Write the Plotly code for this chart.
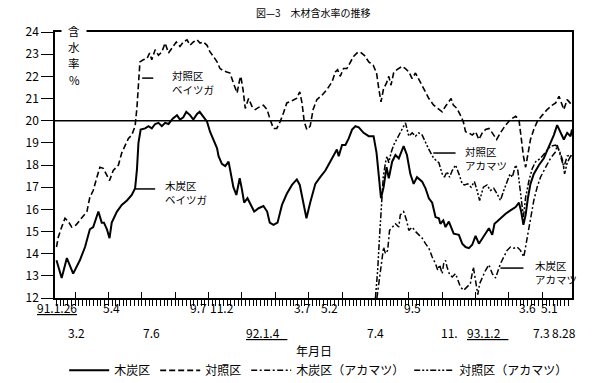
import plotly.graph_objects as go

# x = weeks since 1991-01-26
solid_w = [0.0,1.4,2.8,4.5,6.3,7.7,9.0,9.9,11.3,12.2,
           12.8,13.6,14.3,14.9,16.3,17.6,19.0,20.3,21.2,21.7,
           22.1,22.7,23.9,24.8,25.7,26.6,27.5,28.4,29.3,30.2,
           31.4,32.5,33.3,34.2,35.0,36.0,36.9,37.9,38.6,39.6,
           40.6,41.4,42.3,43.3,43.7,44.6,45.5,46.4,46.8,47.7,
           48.5,49.4,50.0,50.6,51.5,52.4,53.3,54.5,55.8,56.8,
           57.5,58.5,59.6,60.8,62.1,63.5,64.8,65.6,66.5,67.4,
           68.4,69.8,71.1,72.5,73.8,74.7,75.6,76.1,77.0,77.9,
           78.8,79.7,80.6,81.5,82.8,84.2,85.5,86.3,86.9,87.5,
           88.2,89.0,89.6,90.5,91.4,92.3,93.6,94.5,95.4,96.3,
           97.2,98.6,99.5,100.4,101.3,102.2,103.1,103.5,104.3,104.9,
           105.8,106.2,107.1,108.5,109.4,110.3,111.2,112.1,113.0,113.9,
           114.8,115.7,116.6,117.5,118.1,118.8,119.7,121.1,122.4,123.8,
           124.7,125.3,125.9,126.5,127.1,127.8,128.7,130.1,131.4,132.8,
           134.1,135.0,135.9,136.8,137.7,138.6,139.0]
solid_v = [13.7,12.9,13.8,13.1,13.7,14.3,15.1,15.2,15.9,15.4,
           15.4,15.1,14.7,15.4,15.9,16.2,16.4,16.65,16.95,17.8,
           19.0,19.6,19.65,19.75,19.65,19.85,19.9,19.75,19.9,19.85,
           20.1,20.25,20.05,20.15,20.4,20.25,20.05,20.3,20.4,20.2,
           19.95,19.5,19.15,18.75,18.4,18.05,17.95,18.15,17.8,17.0,
           16.65,17.4,16.9,16.3,16.5,16.2,15.9,16.05,16.15,15.9,
           15.4,15.3,15.4,16.2,16.7,17.1,17.35,17.1,16.3,15.6,
           16.3,17.15,17.45,17.75,18.15,18.45,18.7,18.4,18.9,18.9,
           19.2,19.6,19.75,19.7,19.45,19.3,19.3,18.55,17.45,16.5,
           17.0,17.9,17.4,18.15,18.45,18.3,18.85,18.45,17.6,17.15,
           17.45,17.25,16.95,16.5,16.3,15.65,15.6,15.35,15.5,15.2,
           15.45,15.3,14.9,14.85,14.45,14.3,14.25,14.4,14.8,14.45,
           14.7,14.9,15.15,14.85,15.35,15.45,15.6,15.8,15.95,16.1,
           16.3,15.9,15.3,15.75,16.5,17.15,17.6,18.0,18.3,18.85,
           19.35,19.8,19.5,19.15,19.45,19.3,19.6]

dash_w = [0.0,0.5,1.4,2.3,3.2,4.1,5.3,6.3,7.2,8.2,
          9.0,9.9,10.9,11.7,12.6,13.6,14.3,15.3,16.7,17.6,
          18.5,19.4,20.3,21.2,21.7,22.1,22.5,23.4,24.4,25.1,
          25.7,26.6,27.5,28.4,29.3,30.2,31.1,32.3,33.3,34.2,
          35.2,36.0,36.9,37.9,38.7,39.6,40.6,41.4,42.3,43.3,
          44.1,45.0,45.9,46.8,47.7,48.7,49.4,49.7,50.3,50.9,
          51.8,52.7,53.6,54.5,55.8,56.8,57.6,58.5,59.4,60.3,
          61.2,62.1,63.5,64.7,65.6,66.2,66.8,67.5,68.4,69.2,
          70.2,71.6,72.9,74.3,75.2,75.8,76.5,77.4,78.3,79.2,
          80.1,81.0,81.9,83.0,84.2,85.4,86.3,86.9,87.5,88.2,
          89.0,89.6,90.2,90.9,91.8,93.2,94.1,95.0,95.9,96.8,
          97.7,99.0,100.4,101.7,103.1,104.0,104.9,105.8,106.4,107.0,
          108.0,108.9,109.7,110.3,111.2,112.1,113.0,113.9,114.8,115.7,
          116.6,117.5,118.7,119.7,121.1,122.4,123.8,124.7,125.3,125.9,
          126.5,127.1,127.8,128.7,129.6,131.0,132.3,133.7,134.6,135.5,
          136.1,136.8,137.7,138.6,139.0]
dash_v = [14.3,14.75,15.2,15.6,15.45,15.2,15.3,15.5,15.65,15.9,
          16.55,16.85,17.45,17.9,17.85,17.55,17.3,17.75,18.0,18.55,
          18.9,19.2,19.35,19.75,20.6,21.8,22.65,22.75,22.8,23.05,
          22.75,23.2,22.95,23.1,23.5,23.05,23.25,23.55,23.35,23.55,
          23.65,23.4,23.55,23.65,23.5,23.55,23.4,23.1,22.9,22.65,
          22.35,22.25,22.2,22.15,21.7,21.25,21.85,22.0,21.4,20.55,
          21.0,20.65,20.5,20.6,20.7,20.5,20.05,19.65,19.65,19.95,
          20.35,20.8,20.9,21.0,21.3,20.8,19.95,19.6,19.75,20.5,
          20.95,21.15,21.4,21.75,22.2,22.3,22.0,22.35,22.35,22.65,
          22.9,23.05,23.1,22.95,22.65,22.5,22.15,21.45,20.85,21.45,
          21.7,22.0,21.6,22.15,22.3,22.45,22.35,22.2,21.9,22.15,
          21.85,21.4,21.0,20.7,20.5,20.4,20.65,20.85,21.0,20.7,
          20.55,20.25,19.95,19.5,19.45,19.35,19.5,19.15,19.45,19.6,
          19.65,19.45,19.15,19.45,19.8,20.05,20.2,20.05,19.15,18.4,
          17.9,18.55,19.15,19.6,19.95,20.25,20.5,20.7,20.8,21.1,
          20.85,20.5,20.95,20.8,20.7]

aka_ctrl_w = [86.0,86.6,87.1,87.6,88.1,88.7,89.1,89.6,90.2,90.9,
              91.8,93.2,94.1,95.0,95.9,96.8,97.7,98.6,99.5,100.4,
              101.7,103.1,104.0,104.6,105.3,106.0,106.7,107.6,108.5,109.4,
              110.0,110.9,111.8,112.7,113.4,114.1,115.1,116.1,117.0,117.9,
              118.8,119.7,120.6,121.5,122.3,122.9,123.8,124.4,125.1,125.9,
              126.5,127.4,128.3,129.2,130.5,131.9,133.2,134.6,135.5,136.4,
              137.0,137.7,138.6,139.0]
aka_ctrl_v = [12.0,13.25,14.75,16.25,17.45,18.1,18.4,18.1,18.55,18.9,
              19.2,19.6,19.9,19.3,19.45,19.3,19.45,19.35,19.0,18.7,
              18.3,18.1,17.6,17.45,17.7,17.45,17.75,18.0,17.6,17.15,
              17.1,17.15,17.0,17.25,16.85,16.4,17.0,17.1,16.85,16.95,
              16.7,16.4,16.85,17.3,17.6,17.45,18.0,17.75,16.85,15.65,
              16.55,17.3,17.85,18.15,18.3,18.6,18.85,18.9,18.7,18.25,
              17.6,18.1,18.4,18.3]

aka_char_w = [86.4,87.1,87.8,88.2,88.7,89.3,89.8,90.5,91.4,92.3,
              92.7,93.6,94.4,95.0,95.9,96.8,97.7,98.6,99.5,100.4,
              101.3,102.2,102.8,103.3,104.0,104.4,104.9,105.3,106.0,106.7,
              107.6,108.9,109.8,110.7,111.6,112.4,113.0,113.6,114.1,114.8,
              115.7,116.6,117.5,118.4,119.0,119.7,120.6,121.5,122.4,123.3,
              124.2,125.1,126.0,126.9,127.8,128.7,129.6,130.5,131.9,133.2,
              134.6,135.0,135.9,136.8,137.7,138.6,139.0]
aka_char_v = [12.0,12.95,13.85,14.3,14.0,14.15,15.05,15.2,15.35,15.2,
              15.75,15.9,15.5,15.05,15.2,15.0,14.85,14.7,14.45,14.25,
              13.85,13.55,13.25,13.5,13.1,13.55,13.7,13.4,13.05,12.95,
              13.1,12.5,12.35,12.5,12.65,13.4,12.65,12.15,12.65,12.95,
              13.25,13.5,13.1,12.9,13.25,13.55,13.85,14.15,14.3,14.25,
              14.3,14.15,13.85,14.75,15.65,16.4,17.0,17.45,17.9,18.3,
              18.6,18.9,18.4,17.9,18.4,18.45,18.4]

# date tick labels (two staggered rows), positions in weeks
row1_labels = ["<u>91.1.26</u>", "5.4", "9.7", "11.2", "3.7", "5.2", "9.5", "3.6", "5.1"]
row1_pos = [0.1, 14.7, 38.4, 44.6, 66.2, 73.5, 96.1, 126.9, 133.0]
row2_labels = ["3.2", "7.6", "<u>92.1.4\u00a0\u00a0\u00a0</u>", "7.4", "11.",
               "<u>93.1.2\u00a0\u00a0\u00a0</u>"]
row2_pos = [5.5, 25.7, 56.6, 86.1, 106.1, 116.2]
row2_end_labels = ["7.3", "8.28"]
row2_end_pos = 133.4  # the two last labels abut each other here

FONT = "Noto Sans CJK JP"

fig = go.Figure()
fig.add_trace(go.Scatter(x=solid_w, y=solid_v, mode="lines", name="木炭区",
                         line=dict(color="black", width=2)))
fig.add_trace(go.Scatter(x=dash_w, y=dash_v, mode="lines", name="対照区",
                         line=dict(color="black", width=1.6, dash="6px,3px")))
fig.add_trace(go.Scatter(x=aka_char_w, y=aka_char_v, mode="lines", name="木炭区（アカマツ）",
                         line=dict(color="black", width=1.5, dash="6px,2.5px,2px,2.5px")))
fig.add_trace(go.Scatter(x=aka_ctrl_w, y=aka_ctrl_v, mode="lines", name="対照区（アカマツ）",
                         line=dict(color="black", width=1.5, dash="6px,2px,2px,2px,2px,2px")))

fig.add_hline(y=20, line=dict(color="black", width=1.5))

for txt, pos in zip(row1_labels, row1_pos):
    fig.add_annotation(x=pos, y=0, xref="x", yref="paper", yshift=-9, yanchor="middle",
                       text=txt, showarrow=False, font=dict(size=12, color="black"))
for txt, pos in zip(row2_labels, row2_pos):
    fig.add_annotation(x=pos, y=0, xref="x", yref="paper", yshift=-34, yanchor="middle",
                       text=txt, showarrow=False, font=dict(size=12, color="black"))
for txt, anc in zip(row2_end_labels, ["right", "left"]):
    fig.add_annotation(x=row2_end_pos, y=0, xref="x", yref="paper", yshift=-34, yanchor="middle",
                       xanchor=anc, borderpad=0, text=txt, showarrow=False,
                       font=dict(size=12, color="black"))

# y-axis caption inside plot
fig.add_annotation(x=0, y=1, xref="paper", yref="paper", xshift=19, yshift=1, text="含",
                   xanchor="center", yanchor="middle",
                   showarrow=False, bgcolor="white", width=24, borderpad=0,
                   font=dict(size=11.5, color="black"))
for t, ys in [("水", -15), ("率", -31), ("%", -48)]:
    fig.add_annotation(x=0, y=1, xref="paper", yref="paper", xshift=19, yshift=ys, text=t,
                       xanchor="center", yanchor="middle",
                       showarrow=False, borderpad=0, font=dict(size=11.5, color="black"))

# series labels with leader lines
labels = [("対照区<br>ベイツガ", 30.6, 21.74, (23.1, 26.1, 21.92)),
          ("木炭区<br>ベイツガ", 28.7, 16.78, (21.2, 26.6, 16.92)),
          ("対照区<br>アカマツ", 109.7, 18.31, (101.6, 107.6, 18.54)),
          ("木炭区<br>アカマツ", 128.4, 13.13, (119.7, 125.9, 13.35))]
for txt, lx, ly, (x0, x1, yl) in labels:
    fig.add_annotation(x=lx, y=ly, xref="x", yref="y", xanchor="left", yanchor="middle",
                       text=txt, showarrow=False, align="left",
                       font=dict(size=10.5, color="black"))
    fig.add_shape(type="line", x0=x0, x1=x1, y0=yl, y1=yl, xref="x", yref="y",
                  line=dict(color="black", width=1.5))

fig.add_annotation(x=0.5, y=1, xref="paper", yref="paper", yshift=20, yanchor="middle",
                   text="図—3　木材含水率の推移",
                   showarrow=False, font=dict(size=10, color="black"))
fig.add_annotation(x=0.5, y=0, xref="paper", yref="paper", yshift=-52, yanchor="middle",
                   text="年月日", showarrow=False, font=dict(size=12, color="black"))

fig.update_layout(
    width=600, height=383,
    margin=dict(l=55, r=28, t=32, b=85, autoexpand=False),
    paper_bgcolor="white", plot_bgcolor="white",
    font=dict(family=FONT, color="black"),
    showlegend=True,
    legend=dict(orientation="h", x=0.51, xanchor="center", y=-0.272, yanchor="middle",
                font=dict(size=12), itemwidth=40, bgcolor="rgba(0,0,0,0)"),
    xaxis=dict(range=[-0.4, 139.0], showgrid=False, zeroline=False,
               showline=True, linecolor="black", linewidth=1.6, mirror=True,
               ticks="inside", tick0=5, dtick=9, ticklen=6, tickwidth=1.2, tickcolor="black",
               showticklabels=False,
               minor=dict(ticks="outside", tick0=0, dtick=1, ticklen=6, tickwidth=1,
                          tickcolor="black")),
    yaxis=dict(range=[12, 24], dtick=1, showgrid=False, zeroline=False,
               showline=True, linecolor="black", linewidth=1.6, mirror=True,
               ticks="outside", ticklen=12, tickwidth=1.2, tickcolor="black",
               tickfont=dict(size=12, color="black")),
)

fig.write_html("out.html", config={"displayModeBar": False},
               post_script="document.body.style.margin='0';document.body.style.overflow='hidden';")
